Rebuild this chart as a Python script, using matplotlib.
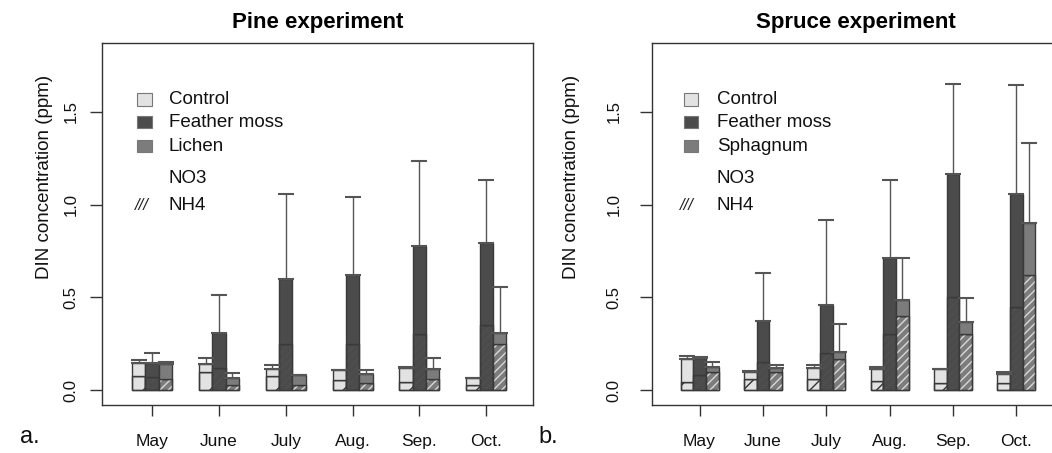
import numpy as np
import matplotlib.pyplot as plt
from matplotlib.patches import Rectangle

plt.rcParams['font.family'] = ['Liberation Sans', 'DejaVu Sans']

months = ["May", "June", "July", "Aug.", "Sep.", "Oct."]

# Pine experiment (totals = NO3 + NH4, err = upper SE)
pine_control = [0.145, 0.142, 0.115, 0.106, 0.120, 0.063]
pine_control_nh4 = [0.075, 0.100, 0.076, 0.052, 0.045, 0.025]
pine_control_err = [0.015, 0.033, 0.018, 0.0, 0.005, 0.0]
pine_moss = [0.148, 0.306, 0.60, 0.62, 0.778, 0.795]
pine_moss_nh4 = [0.07, 0.12, 0.25, 0.25, 0.30, 0.35]
pine_moss_err = [0.05, 0.204, 0.454, 0.42, 0.456, 0.335]
pine_lichen = [0.14, 0.067, 0.081, 0.088, 0.112, 0.31]
pine_lichen_nh4 = [0.06, 0.03, 0.03, 0.04, 0.06, 0.25]
pine_lichen_err = [0.01, 0.023, 0.0, 0.019, 0.063, 0.248]

# Spruce experiment
spruce_control = [0.166, 0.097, 0.117, 0.112, 0.112, 0.085]
spruce_control_nh4 = [0.045, 0.06, 0.058, 0.049, 0.04, 0.04]
spruce_control_err = [0.019, 0.005, 0.018, 0.012, 0.004, 0.015]
spruce_moss = [0.171, 0.373, 0.458, 0.712, 1.166, 1.058]
spruce_moss_nh4 = [0.08, 0.15, 0.20, 0.30, 0.50, 0.45]
spruce_moss_err = [0.005, 0.259, 0.459, 0.421, 0.481, 0.585]
spruce_sphag = [0.126, 0.117, 0.204, 0.488, 0.369, 0.90]
spruce_sphag_nh4 = [0.10, 0.10, 0.17, 0.40, 0.30, 0.62]
spruce_sphag_err = [0.024, 0.016, 0.154, 0.224, 0.127, 0.433]

fills = ["#e2e2e2", "#4b4b4b", "#7c7c7c"]
hatchcols = ["#333333", "#505050", "#d8d8d8"]
edge = "#3a3a3a"
txt = "#111111"

fig = plt.figure(figsize=(10.52, 4.53), dpi=100)
ax1 = fig.add_axes([0.097, 0.106, 0.4097, 0.799])
ax2 = fig.add_axes([0.6198, 0.106, 0.3883, 0.799])

x = np.arange(len(months)) * 5


def draw_panel(ax, series, title, names, ylab_x, ytick_pad, sx, tx, hx):
    for k, (tot, nh4, err) in enumerate(series):
        tot = np.array(tot)
        nh4 = np.array(nh4)
        pos = x + (k - 1)
        # NH4 part (bottom, hatched)
        ax.bar(pos, nh4, width=1, color=fills[k], edgecolor=edge, linewidth=1)
        ax.bar(pos, nh4, width=1, color="none", edgecolor=hatchcols[k],
               linewidth=0, hatch="/" if k == 0 else "////")
        ax.bar(pos, nh4, width=1, color="none", edgecolor=edge, linewidth=1)
        # NO3 part (top)
        ax.bar(pos, tot - nh4, bottom=nh4, width=1, color=fills[k],
               edgecolor=edge, linewidth=1)
        # upper error bars
        ax.errorbar(pos, tot, yerr=[np.zeros_like(tot), np.array(err)],
                    fmt="none", ecolor="#555555", elinewidth=1, capsize=6,
                    capthick=1.5)
    ax.set_xlim(-3.75, 28.5)
    ax.set_ylim(-0.08, 1.87)
    ax.set_xticks(x)
    ax.set_xticklabels(months, fontsize=12.5)
    ax.set_yticks([0, 0.5, 1.0, 1.5])
    ax.set_yticklabels(["0.0", "0.5", "1.0", "1.5"], rotation=90,
                       va="center", fontsize=12)
    ax.tick_params(axis="x", length=8, width=1, pad=13, colors="#333333",
                   labelcolor=txt)
    ax.tick_params(axis="y", length=9, width=1, pad=ytick_pad,
                   colors="#333333", labelcolor=txt)
    for s in ax.spines.values():
        s.set_color("#333333")
        s.set_linewidth(1)
    ax.set_ylabel("DIN concentration (ppm)", fontsize=13.5, color=txt)
    ax.yaxis.set_label_coords(ylab_x, 0.63)
    ax.set_title(title, fontsize=16, fontweight="bold", pad=11)

    # legend drawn by hand
    rows = [0.844, 0.781, 0.715]
    for k, (name, yy) in enumerate(zip(names, rows)):
        ax.add_patch(Rectangle((sx, yy - 0.017), 0.034, 0.034,
                               transform=ax.transAxes, facecolor=fills[k],
                               edgecolor="#777777", linewidth=0.8))
        ax.text(tx, yy, name, transform=ax.transAxes, fontsize=13.5,
                va="center", color=txt)
    ax.text(tx, 0.627, "NO3", transform=ax.transAxes, fontsize=13.5,
            va="center", color=txt)
    ax.text(hx, 0.552, "///", transform=ax.transAxes, fontsize=12,
            va="center", style="italic", color="#222222")
    ax.text(tx, 0.552, "NH4", transform=ax.transAxes, fontsize=13.5,
            va="center", color=txt)


draw_panel(ax1, [(pine_control, pine_control_nh4, pine_control_err),
                 (pine_moss, pine_moss_nh4, pine_moss_err),
                 (pine_lichen, pine_lichen_nh4, pine_lichen_err)],
           "Pine experiment", ["Control", "Feather moss", "Lichen"],
           -0.114, 8, 0.081, 0.155, 0.077)
draw_panel(ax2, [(spruce_control, spruce_control_nh4, spruce_control_err),
                 (spruce_moss, spruce_moss_nh4, spruce_moss_err),
                 (spruce_sphag, spruce_sphag_nh4, spruce_sphag_err)],
           "Spruce experiment", ["Control", "Feather moss", "Sphagnum"],
           -0.176, 13, 0.078, 0.159, 0.069)

fig.text(0.019, 0.035, "a.", fontsize=17, color=txt, va="center")
fig.text(0.512, 0.035, "b.", fontsize=17, color=txt, va="center")

fig.savefig("out.png", dpi=100)
